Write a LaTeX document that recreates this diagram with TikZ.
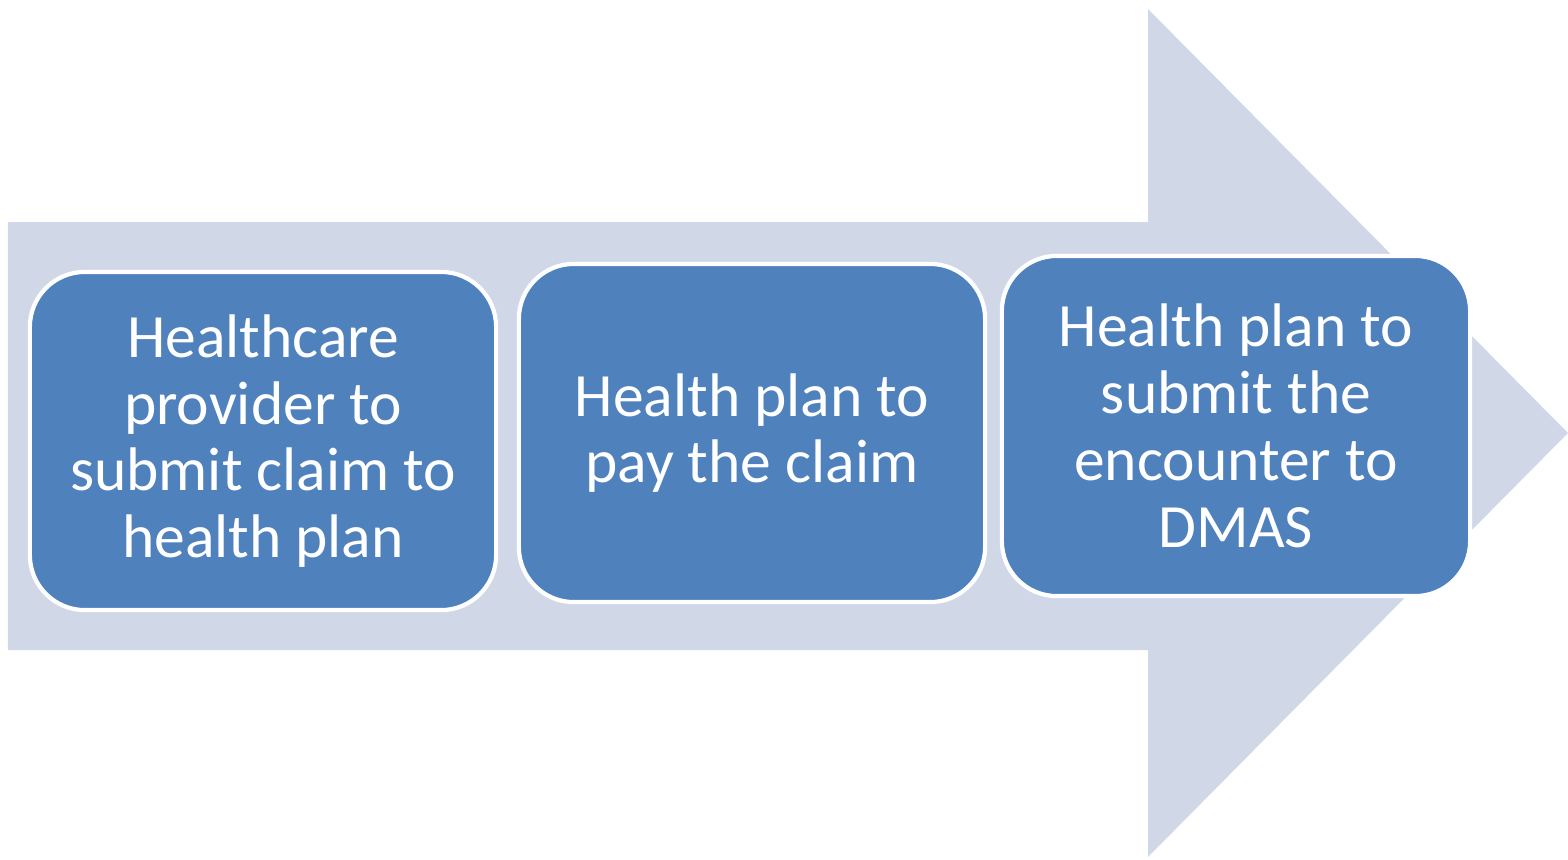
\documentclass[tikz,border=0pt]{standalone}
\usepackage{fontspec}
\setmainfont{Carlito}
\usepackage{tikz}
\definecolor{flowArrow}{RGB}{208, 216, 232}
\definecolor{stepBlue}{RGB}{79, 129, 189}

\begin{document}
\begin{tikzpicture} [
        x=0.01cm, y=-0.01cm,
        width/.style={minimum width=4.66cm,},
        stepbox/.style={draw=white, line width=1.2pt, width, minimum height=3.38cm, fill=stepBlue, rounded corners=0.55cm, text=white, font=\fontsize{17.5}{19}\selectfont, align=center, inner sep=0pt},
        flow/.style={fill=flowArrow}
    ]
    \useasboundingbox (0,0) rectangle (1568,860);

    % big arrow behind the steps
    \fill[flow] (8,222) -- (1148,222) -- (1148,9) -- (1568,433) -- (1148,857) -- (1148,650) -- (8,650) -- cycle;

    \draw node[stepbox] (provider) at (263,441) {Healthcare\\provider to\\submit claim to\\health plan};
    \draw node[stepbox] (pay) at (752,433) {Health plan to\\pay the claim};
    \draw node[stepbox, minimum width=4.68cm, minimum height=3.4cm] (encounter) at (1236,426) {Health plan to\\submit the\\encounter to\\DMAS};

    \end{tikzpicture}
\end{document}
